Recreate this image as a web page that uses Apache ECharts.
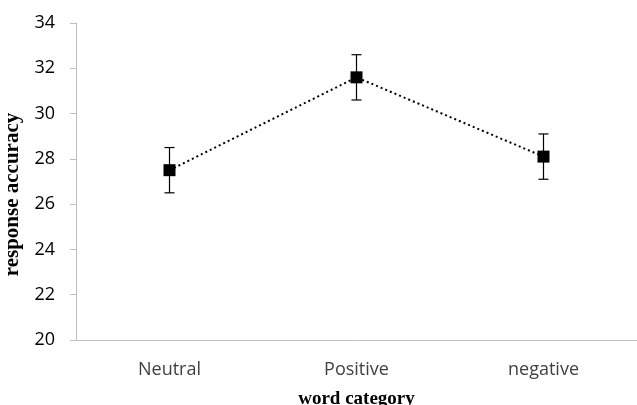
<!DOCTYPE html>
<html><head><meta charset="utf-8">
<script src="https://cdn.jsdelivr.net/npm/echarts@6/dist/echarts.min.js"></script>
<style>html,body{margin:0;padding:0;background:#fff}#c{width:637px;height:405px}</style>
</head><body><div id="c"></div>
<script>
const categories = ['Neutral', 'Positive', 'negative'];
const meanValues = [27.5, 31.6, 28.1];
const errorLow = [26.5, 30.6, 27.1];
const errorHigh = [28.5, 32.6, 29.1];
const yTicks = [20, 22, 24, 26, 28, 30, 32, 34];

const chart = echarts.init(document.getElementById('c'));
chart.setOption({
  animation: false,
  grid: { left: 76, right: 0, top: 23, bottom: 65, containLabel: false, outerBoundsMode: 'none' },
  xAxis: {
    type: 'category', data: categories, boundaryGap: true,
    name: 'word category', nameLocation: 'middle', nameGap: 50,
    nameTextStyle: { fontFamily: 'Liberation Serif', fontWeight: 'bold', fontSize: 19, color: '#000' },
    axisLine: { lineStyle: { color: '#bfbfbf', width: 1 } },
    axisTick: { alignWithLabel: true, length: 5, inside: true, lineStyle: { color: '#bfbfbf' } },
    axisLabel: { fontFamily: 'Open Sans', fontSize: 18, color: '#404040', margin: 21 }
  },
  yAxis: {
    type: 'value', min: yTicks[0], max: yTicks[yTicks.length - 1], interval: 2,
    name: 'response accuracy', nameLocation: 'middle', nameGap: 45, nameRotate: 90,
    nameTextStyle: { fontFamily: 'Liberation Serif', fontWeight: 'bold', fontSize: 21, color: '#000', padding: [0, 26, 0, 0] },
    axisLine: { show: true, lineStyle: { color: '#bfbfbf', width: 1 } },
    axisTick: { show: true, length: 6, lineStyle: { color: '#bfbfbf' } },
    splitLine: { show: false },
    axisLabel: { fontFamily: 'Open Sans', fontSize: 18, color: '#000', margin: 21 }
  },
  series: [
    {
      type: 'custom',
      data: categories.map((c, i) => [i, errorLow[i], errorHigh[i]]),
      renderItem: function (params, api) {
        const lo = api.coord([api.value(0), api.value(1)]);
        const hi = api.coord([api.value(0), api.value(2)]);
        const w = 5;
        const style = { stroke: '#000', lineWidth: 1.2 };
        return {
          type: 'group',
          children: [
            { type: 'line', shape: { x1: lo[0], y1: lo[1], x2: hi[0], y2: hi[1] }, style },
            { type: 'line', shape: { x1: lo[0] - w, y1: lo[1], x2: lo[0] + w, y2: lo[1] }, style },
            { type: 'line', shape: { x1: hi[0] - w, y1: hi[1], x2: hi[0] + w, y2: hi[1] }, style }
          ]
        };
      },
      z: 1
    },
    {
      type: 'line', data: meanValues,
      symbol: 'rect', symbolSize: 12,
      itemStyle: { color: '#000' },
      lineStyle: { color: '#000', width: 2, type: [2, 3] },
      z: 3
    }
  ]
});
</script></body></html>
